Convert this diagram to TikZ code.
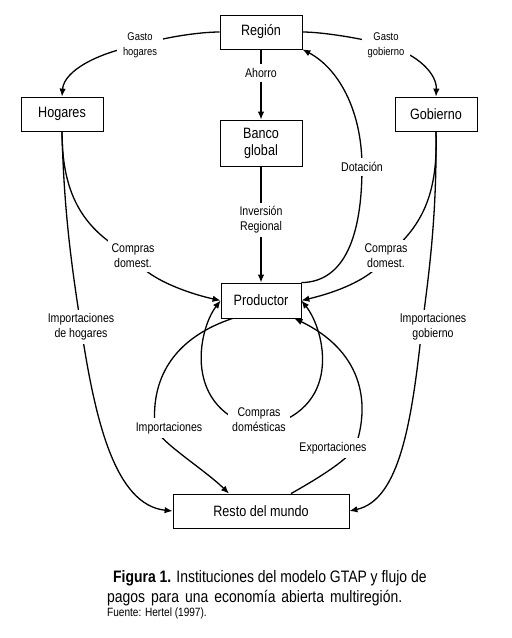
\documentclass[tikz,border=0pt]{standalone}
\usepackage{fontspec}
\setmainfont{Liberation Sans}[FakeStretch=0.84]
\usetikzlibrary{arrows.meta}

\begin{document}
\begin{tikzpicture}[
    x=1pt,y=-1pt,
    >={Latex[length=8pt,width=6.5pt]},
    block/.style={draw,line width=0.8pt,minimum width=82pt,minimum height=34pt,align=center,font=\fontsize{15}{17}\selectfont},
    lab/.style={fill=white,inner sep=4pt,align=center,font=\fontsize{12.6}{15}\selectfont},
    lab small/.style={lab,inner sep=6pt,font=\fontsize{11.2}{15}\selectfont},
    pie/.style={anchor=base west,inner sep=0pt,font=\fontsize{16.6}{19}\selectfont},
    arr/.style={->,line width=1.3pt}
]
\useasboundingbox (0,0) rectangle (512,638);

\node[block] (region) at (261,32) {Región};
\node[block] (hogares) at (62,114) {Hogares};
\node[block,minimum height=46pt] (banco) at (261,143) {Banco\\global};
\node[block] (gobierno) at (436,114) {Gobierno};
\node[block,minimum width=80pt,minimum height=35pt] (productor) at (261,300.5) {Productor};
\node[block,minimum width=176pt] (resto) at (261,511) {Resto del mundo};

% gastos de la region
\draw[arr] (region.west) .. controls (200,32) and (165,37) .. (140,45) node[lab small]{Gasto\\hogares} .. controls (100,52) and (64,70) .. (hogares.north);
\draw[arr] (region.east) .. controls (322,32) and (360,38) .. (386,45) node[lab small]{Gasto\\gobierno} .. controls (420,55) and (437,75) .. (gobierno.north);
\draw[arr] (region.south) -- (261,73) node[lab]{Ahorro} -- (banco.north);
\draw[arr] (banco.south) -- (261,220) node[lab]{Inversión\\Regional} -- (productor.north);
\draw[arr] (productor.north east) .. controls (345,282) and (362,235) .. (362,167) node[lab]{Dotación} .. controls (362,110) and (338,68) .. (region.south east);

% compras domesticas
\draw[arr] (hogares.south) .. controls (62,190) and (80,230) .. (133,256) node[lab]{Compras\\domest.} .. controls (145,280) and (195,295) .. (productor.west);
\draw[arr] (gobierno.south) .. controls (438,190) and (425,225) .. (386,256) node[lab]{Compras\\domest.} .. controls (372,282) and (325,295) .. (productor.east);

% importaciones
\draw[arr] (hogares.south) .. controls (64,220) and (74,280) .. (81,327) node[lab]{Importaciones\\de hogares} .. controls (95,420) and (115,505) .. (resto.west);
\draw[arr] (gobierno.south) .. controls (437,220) and (428,280) .. (422,327) node[lab,xshift=11pt]{Importaciones\\gobierno} .. controls (412,420) and (400,500) .. (resto.east);

% flujos del productor
\draw[arr] ([xshift=12pt]productor.south west) .. controls (180,336) and (150,372) .. (155,428) node[lab,xshift=14pt]{Importaciones} .. controls (160,442) and (205,470) .. ([xshift=-32pt]resto.north);
\draw[arr,<->] (productor.west) .. controls (198,330) and (182,410) .. (259,428) node[lab,yshift=8pt]{Compras\\domésticas} .. controls (345,412) and (325,330) .. (productor.east);
\draw[arr] ([xshift=30pt]resto.north) .. controls (315,480) and (345,462) .. (355,448) node[lab,xshift=-22pt]{Exportaciones} .. controls (372,400) and (360,350) .. ([xshift=-7pt]productor.south east);

% pie de figura
\node[pie] (pie1) at (113,582.5) {\textbf{Figura 1.} Instituciones del modelo GTAP y flujo de};
\node[pie] (pie2) at (107,602) {\makebox[295pt][s]{pagos para una economía abierta multiregión.}};
\node[pie,font=\fontsize{12}{14}\selectfont] (fuente) at (107,616) {Fuente: Hertel (1997).};
\end{tikzpicture}
\end{document}
